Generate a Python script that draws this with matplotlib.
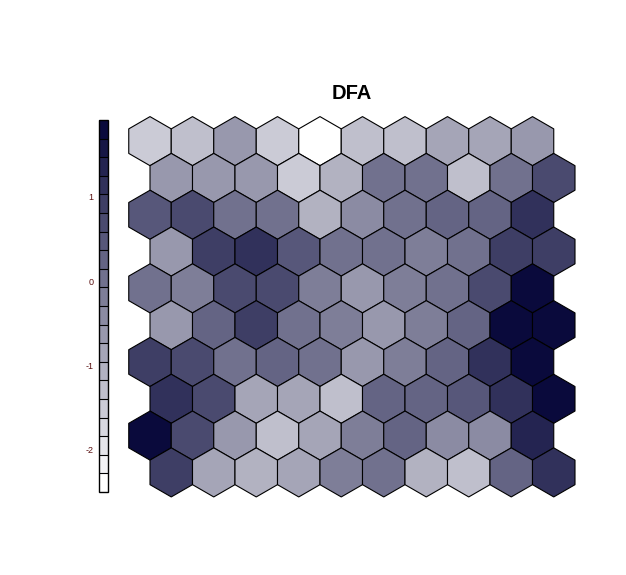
import numpy as np
import matplotlib
matplotlib.use("Agg")
import matplotlib.pyplot as plt
from matplotlib.patches import RegularPolygon
from matplotlib.collections import PatchCollection
from matplotlib.colors import LinearSegmentedColormap, BoundaryNorm

plt.rcParams["axes.unicode_minus"] = False

title = "DFA"
n_rows = 10
n_cols = 10
# values per row, listed from top row to bottom row (left to right)
dfa_values = [
    [-1.51, -1.29, -0.73, -1.51, -2.50, -1.29, -1.29, -0.84, -0.84, -0.62],
    [-0.62, -0.62, -0.62, -1.51, -1.07, 0.00, 0.04, -1.29, 0.04, 0.70],
    [0.48, 0.70, 0.04, 0.04, -1.07, -0.40, 0.04, 0.26, 0.26, 1.14],
    [-0.62, 0.92, 1.14, 0.48, 0.04, 0.04, -0.18, 0.10, 0.92, 0.92],
    [0.04, -0.18, 0.70, 0.70, -0.18, -0.62, -0.18, 0.04, 0.70, 1.80],
    [-0.62, 0.26, 0.92, 0.04, -0.18, -0.62, -0.18, 0.26, 1.80, 1.80],
    [0.92, 0.70, 0.04, 0.26, 0.04, -0.62, -0.18, 0.26, 1.14, 1.75],
    [1.14, 0.70, -0.84, -0.84, -1.29, 0.26, 0.26, 0.48, 1.14, 1.80],
    [1.91, 0.70, -0.62, -1.29, -0.84, -0.18, 0.26, -0.40, -0.40, 1.36],
    [0.92, -0.84, -1.07, -0.84, -0.18, 0.04, -1.07, -1.29, 0.26, 1.14],
]
cbar_ticks = [-2, -1, 0, 1]
n_bins = 20

W, H = 626, 575
fig = plt.figure(figsize=(W / 100, H / 100), dpi=100)
unit = 42.5  # pixels per grid unit
x0_px = 107.5  # pixel x of data x=0
y0_px = 514.9  # pixel y of data y=0
ax = fig.add_axes([0, 0, 1, 1])
ax.set_xlim(-x0_px / unit, (W - x0_px) / unit)
ax.set_ylim(-(H - y0_px) / unit, y0_px / unit)
ax.set_aspect("equal")
ax.axis("off")

vals = np.array(dfa_values)
vmin, vmax = vals.min(), vals.max()
cmap = LinearSegmentedColormap.from_list("wn", ["#ffffff", "#0a0a3c"], N=n_bins)
bounds = np.linspace(vmin, vmax, n_bins + 1)
norm = BoundaryNorm(bounds, n_bins)

radius = 1 / np.sqrt(3)
patches, cvals = [], []
for i, row in enumerate(dfa_values):
    r = n_rows - 1 - i  # 0 = bottom row
    shift = 0.5 if r % 2 == 0 else 0.0
    for j, v in enumerate(row):
        x = 1 + j + shift
        y = 1 + r * np.sqrt(3) / 2
        patches.append(RegularPolygon((x, y), numVertices=6, radius=radius, orientation=0))
        cvals.append(v)

coll = PatchCollection(patches, cmap=cmap, norm=norm, edgecolor="black", linewidth=0.8)
coll.set_array(np.array(cvals))
ax.add_collection(coll)

ax.text(0.5 * (1 + n_cols + 0.5), 1 + (n_rows - 1) * np.sqrt(3) / 2 + 1.13, title,
        ha="center", va="center", fontsize=14.5, fontweight="bold", family="Liberation Sans")

cax = fig.add_axes([99 / W, (H - 492) / H, 9 / W, 372 / H])
cb = fig.colorbar(coll, cax=cax, drawedges=True, ticks=cbar_ticks)
cb.outline.set_edgecolor("black")
cb.outline.set_linewidth(1.0)
cb.dividers.set_color("black")
cb.dividers.set_linewidth(0.8)
cax.minorticks_off()
cax.yaxis.set_ticks_position("left")
cax.tick_params(axis="y", which="both", length=0, right=False, pad=4, labelsize=6.5,
                labelcolor="#5a1010")
for t in cax.get_yticklabels():
    t.set_family("Liberation Sans")

fig.savefig("out.png", dpi=100)
